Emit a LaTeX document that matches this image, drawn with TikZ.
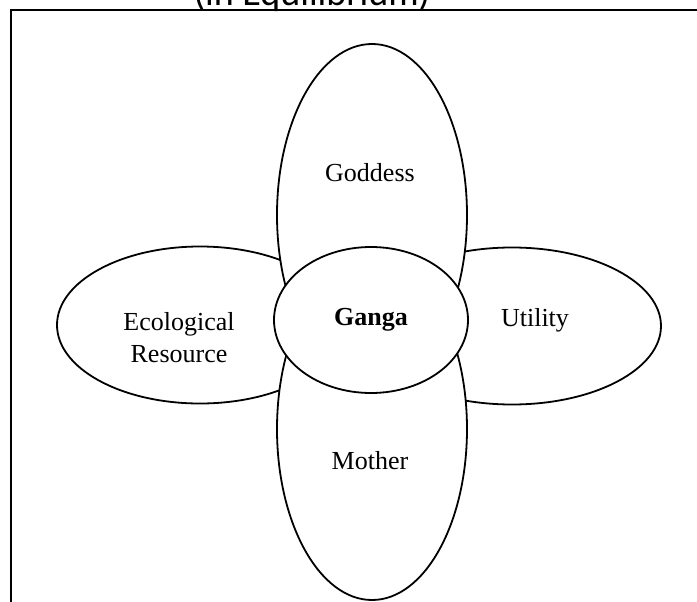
\documentclass[tikz,border=0pt]{standalone}
\usepackage{fontspec}
\setmainfont{Liberation Serif}
\newfontfamily\headfont{Carlito}
\usetikzlibrary{shapes.geometric}
\tikzset{
  petal/.style={draw, ellipse, fill=white, line width=1.8pt, inner sep=0pt},
  wide/.style={petal, minimum width=286pt, minimum height=157pt},
  tall/.style={petal, minimum width=190pt, minimum height=342pt},
  core/.style={petal, minimum width=194pt, minimum height=146pt, font=\fontsize{26}{31}\selectfont\bfseries},
  lbl/.style={align=center, font=\fontsize{26}{32}\selectfont}
}

\begin{document}
\begin{tikzpicture}[x=1pt, y=-1pt]
  \useasboundingbox (0,0) rectangle (697,602);
  \clip (0,0) rectangle (697,602);

  % heading and frame, both cut by the page edge
  \node[anchor=base, font=\headfont\fontsize{38}{40}\selectfont] (title) at (312,6) {(in Equilibrium)};
  \draw[line width=2.5pt] (11,640) -- (11,10) -- (720,10);

  % side petals first, then top and bottom, then the centre
  \node[wide] (eco) at (200,325) {};
  \node[wide, minimum width=298pt] (util) at (512,326) {};
  \node[tall] (goddess) at (372,215) {};
  \node[tall] (mother) at (372,429) {};
  \node[core] (ganga) at (371,320) {Ganga};

  \node[lbl] (ecotext) at ([shift={(-21,13)}]eco.center) {Ecological\\Resource};
  \node[lbl] (utiltext) at ([shift={(23,-6)}]util.center) {Utility};
  \node[lbl] (goddesstext) at ([shift={(-2,-42)}]goddess.center) {Goddess};
  \node[lbl] (mothertext) at ([shift={(-2,32)}]mother.center) {Mother};
\end{tikzpicture}
\end{document}
